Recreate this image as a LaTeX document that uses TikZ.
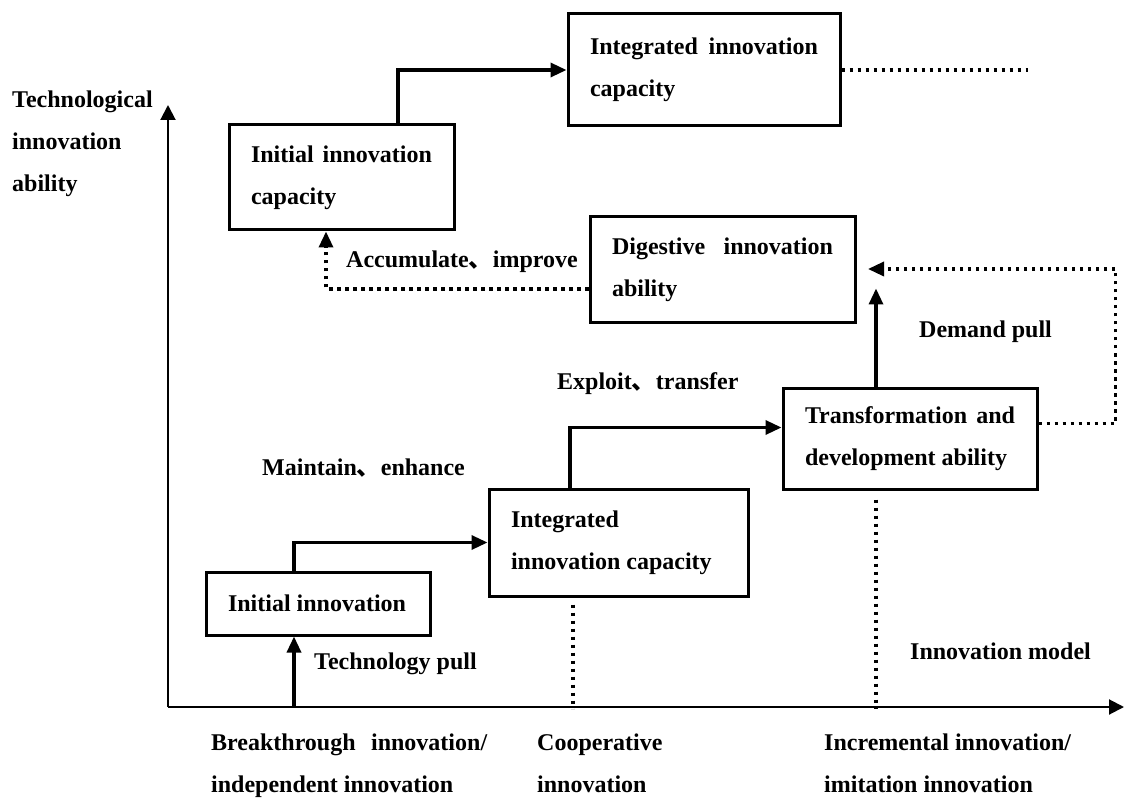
\documentclass[tikz,border=0pt]{standalone}
\usepackage{fontspec}
\setmainfont{Liberation Serif}
\newfontfamily\cjk{Noto Sans CJK SC}
\usetikzlibrary{arrows.meta}
\newcommand{\dun}{{\cjk 、}}

\begin{document}
\begin{tikzpicture}[x=1pt,y=-1pt,
  every node/.style={font=\fontsize{24}{42}\selectfont\bfseries},
  capbox/.style={draw,line width=3pt,inner xsep=22pt,inner ysep=0pt,align=justify,
    execute at begin node={\spaceskip=0.25em plus 2em\relax}},
  lbl/.style={anchor=mid west,inner sep=0pt},
  mlbl/.style={anchor=north west,inner sep=0pt,align=left},
  flow/.style={line width=3.3pt,-{Triangle[length=16pt,width=14pt]}},
  dotline/.style={line width=3.3pt,dash pattern=on 3.3pt off 4.7pt},
  dotflow/.style={dotline,-{Triangle[length=16pt,width=14pt]}},
  axis/.style={line width=2pt,-{Triangle[length=15pt,width=15pt]}}]
\useasboundingbox (0,0) rectangle (1124,799);
% Axes
\coordinate (o) at (168,707);
\coordinate (ytop) at (168,105);
\coordinate (xend) at (1124,707);
\draw[axis] (o) -- (ytop);
\draw[axis] (o) -- (xend);
% Boxes
\node[capbox,text width=228pt,minimum width=272pt,minimum height=112pt] (intcap) at (704,70) {Integrated innovation capacity};
\node[capbox,text width=181pt,minimum width=225pt,minimum height=105pt] (initcap) at (341.5,177.5) {Initial innovation capacity};
\node[capbox,text width=221pt,minimum width=265pt,minimum height=106pt] (dig) at (722.5,270) {Digestive innovation ability};
\node[capbox,text width=210pt,minimum width=254pt,minimum height=101pt] (trans) at (910,438.5) {Transformation and development ability};
\node[capbox,text width=215pt,minimum width=259pt,minimum height=107pt] (intlow) at (618.5,542.5) {Integrated\\innovation capacity};
\node[capbox,text width=180pt,minimum width=224pt,minimum height=63pt] (init) at (318,603.5) {Initial innovation};
% Solid arrows
\draw[flow] ([xshift=-24pt]init.south |- o) -- ([xshift=-24pt]init.south);
\draw[flow] ([xshift=-24pt]init.north) |- (intlow.west);
\draw[flow] ([xshift=-48.5pt]intlow.north) |- ([yshift=11pt]trans.west);
\draw[flow] ([xshift=56.5pt]initcap.north) |- (intcap.west);
\draw[flow] ([xshift=-34pt]trans.north) -- ++(0,-98);
% Dotted lines
\coordinate (fb) at (868,269);
\draw[dotflow] ([yshift=15pt]trans.east) -- ++(77,0) |- (fb);
\draw[dotflow] ([yshift=-19pt]dig.west) -| ([xshift=-15.5pt]initcap.south);
\draw[dotline] (intcap.east) -- ++(186,0);
\draw[dotline] ([xshift=-45.5pt,yshift=-7pt]intlow.south) -- ++(0,104);
\draw[dotline] ([xshift=-34pt,yshift=-9pt]trans.south) -- ++(0,209);
% Labels
\node[mlbl] (yname) at (12,91) {Technological\\innovation\\ability};
\node[lbl] (acc) at (346,265) {Accumulate\dun improve};
\node[lbl] (dem) at (919,335) {Demand pull};
\node[lbl] (exp) at (557,387) {Exploit\dun transfer};
\node[lbl] (mai) at (262,473) {Maintain\dun enhance};
\node[lbl] (tec) at (314,667) {Technology pull};
\node[lbl] (xname) at (910,657) {Innovation model};
\node[mlbl,align=justify,text width=276pt,execute at begin node={\spaceskip=0.25em plus 2em\relax}] (brk) at (211,734) {Breakthrough innovation/ independent innovation};
\node[mlbl] (coo) at (537,734) {Cooperative\\innovation};
\node[mlbl] (inc) at (824,734) {Incremental innovation/\\imitation innovation};
\end{tikzpicture}
\end{document}
